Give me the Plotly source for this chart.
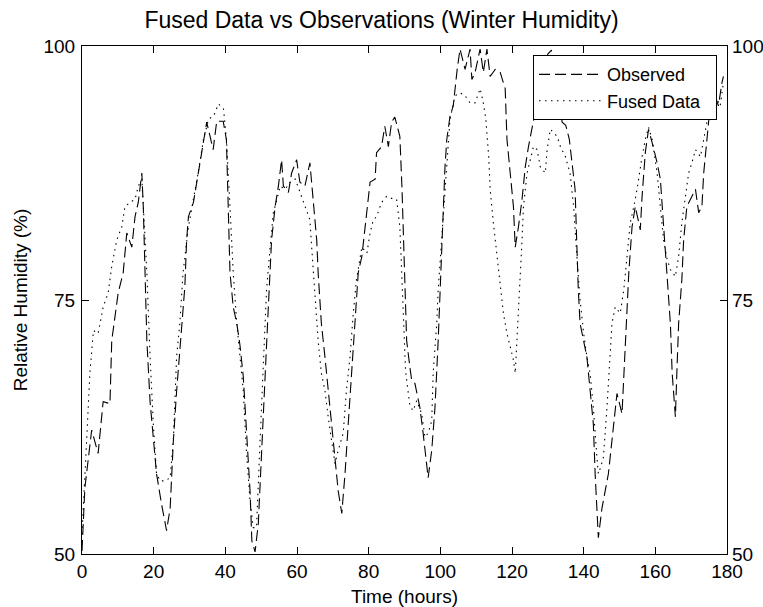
import plotly.graph_objects as go

# Observed humidity (time in hours, RH in %)
obs_time = [0, 0.8, 2.7, 4.5, 5.9, 7.8, 8.3, 10.1, 11.5, 12.5, 13.9, 14.8, 15.7, 16.7, 17.1, 17.6,
            18.1, 19, 19.9, 20.8, 22.2, 23.6, 24.6, 25.5, 26.4, 27.3, 28.7, 29.2, 29.7, 31.1, 32.4,
            33.9, 34.8, 36.6, 37.6, 39.4, 40.3, 41.3, 42.2, 43.2, 44.1, 45, 45.9, 46.9, 47.4, 48.3,
            49.2, 50.2, 51.1, 52, 52.9, 53.9, 54.8, 55.7, 56.2, 57.6, 58.5, 59.9, 60.8, 62.2, 63.6,
            64.5, 65.5, 65.9, 66.8, 67.8, 68.7, 69.7, 70.6, 71.5, 72.5, 73.4, 74.3, 75.3, 76.2, 77.1,
            78.1, 79, 80.4, 81.8, 82.2, 83.6, 84.5, 85.5, 86.4, 87.3, 88.7, 89.3, 89.8, 90.2, 90.6,
            91.5, 92, 92.9, 94.3, 95.2, 96.2, 96.6, 97.6, 98.5, 99.4, 99.9, 100.4, 100.8, 101.3,
            101.8, 102.7, 103.6, 104.1, 104.7, 105.5, 106.9, 108.3, 108.8, 109.7, 111.1, 112, 113,
            113.9, 115.3, 116.7, 118.1, 118.6, 119.4, 120.4, 120.9, 121.8, 122.8, 123.7, 124.6,
            125.6, 127, 128.5, 130, 131, 132.5, 134, 135, 136, 137.6, 138, 138.5, 139, 139.9, 140.9,
            141.8, 142.7, 143.2, 143.7, 144.1, 145.1, 146, 146.9, 147.9, 149.3, 150.7, 151.6, 152.6,
            153.5, 154.4, 155.8, 156.3, 157.2, 158.1, 159.1, 160.5, 161.4, 162.3, 163.3, 164.2,
            164.7, 165.6, 166, 166.5, 167.4, 167.9, 168.8, 170.2, 171.2, 172.1, 173, 173.5, 174.4,
            175.3, 176.7, 177.6, 178.6, 179]
obs_rh = [50.3, 56.5, 62.2, 59.9, 65, 64.8, 71, 75.7, 77.7, 81.6, 80.2, 83.2, 84.6, 87.5, 84.2, 77.7,
          71, 65, 61.2, 57.9, 54.9, 52.3, 54.5, 61.2, 66, 70.4, 76.3, 80.9, 83.2, 84.6, 87.5,
          90.8, 92.5, 89.8, 92.6, 92.6, 90.8, 77.7, 74.3, 72.7, 70.5, 67.5, 62, 56.2, 51.3, 50.2,
          53, 61.2, 67.8, 74.3, 80.9, 84.2, 86.2, 88.8, 86.2, 85.6, 87.5, 88.8, 86.6, 86.2, 88.5,
          85.2, 80.9, 77.7, 72.7, 69.4, 66.1, 62.8, 59.5, 56.2, 54, 57.9, 62.8, 67.8, 72.7, 77.7,
          79.3, 82.2, 86.6, 86.9, 89.5, 90.1, 92.1, 90.1, 92.5, 93, 91.1, 86, 80, 74, 71,
          68.4, 67.1, 66.8, 64.4, 61.9, 58.9, 57.5, 60.2, 64.4, 71, 76, 80.2, 84.2, 88.1,
          90.8, 93.1, 94.1, 95.8, 97.7, 99.7, 97.7, 99.7, 96.7, 97.4, 99.7, 97.4, 99.7,
          97, 97.7, 97.4, 95.8, 90.8, 87.5, 84.2, 80.2, 82.2, 84.9, 88.1, 90.1,
          91.8, 94.5, 97.5, 99.2, 99.6, 96, 92.5, 92.2, 90.8, 85.9, 80.9, 76, 72.7, 71, 69.4,
          66.1, 62.8, 57.9, 54.5, 51.6, 54.5, 56.2, 57.9, 61.2, 65.8, 63.8, 71, 77.7,
          82.2, 84.2, 81.9, 85.2, 89.5, 91.8, 90.5, 88.5, 86.9, 82.6, 77.7, 72.7,
          67.8, 63.5, 67.8, 72.7, 77, 80.9, 84.2, 85.2, 85.9, 83.6, 84.2, 87.5, 90.8,
          94.1, 95.1, 94.1, 96.4, 97]

# Fused data (time in hours, RH in %)
fus_time = [0, 0.4, 1.3, 2.2, 3.2, 4.5, 5.9, 7.3, 8.3, 9.7, 11.1, 12, 13.4, 14.8, 15.7, 16.7, 17.6,
            18.1, 19, 19.9, 20.8, 21.8, 23.2, 24.6, 25.5, 26.4, 27.3, 28.2, 29.7, 31.1, 32.4, 33.9,
            35.3, 36.7, 38.1, 39.5, 40.3, 41.3, 42.2, 43.2, 44.1, 45, 45.9, 46.9, 47.8, 48.7, 49.7,
            50.6, 51.5, 52.5, 53.4, 54.4, 55.3, 56.7, 58.1, 59.5, 60.8, 62.2, 63.6, 64.1, 65, 65.9,
            66.8, 67.8, 68.7, 69.7, 70.6, 71.5, 72.9, 73.8, 74.8, 75.7, 76.6, 78.1, 79.5, 80.4,
            81.3, 82.2, 83.6, 85, 86.4, 87.8, 88.7, 89.3, 89.8, 90.3, 91, 91.5, 92.4, 93.4, 94.8,
            95.7, 96.6, 97.6, 98, 99, 99.4, 100.4, 101.3, 102.7, 104.1, 105.5, 106.9, 108.3,
            109.7, 111.1, 112, 112.7, 113.5, 113.9, 114.8, 115.8, 116.7, 117.6, 118.6, 119.5,
            120.4, 120.9, 121.4, 121.8, 122.3, 122.8, 123.2, 124.2, 125.1, 126, 127, 127.9, 129.3,
            129.8, 130.7, 132.6, 133.5, 134.9, 136.2, 137.2, 138.1, 139, 140, 140.9, 141.8, 142.7,
            143.7, 144.1, 144.7, 145.5, 146.5, 147.4, 147.9, 148.8, 150.2, 151.2, 152.1, 153, 154,
            154.9, 156.3, 157.2, 158.1, 159.1, 160.5, 161.4, 162.3, 163.3, 164.2, 165.6, 166.5,
            167.4, 168.3, 169.3, 170.2, 171.2, 172.6, 173.5, 174.4, 175.8, 177.2, 178.1, 179]
fus_rh = [52, 54.5, 61.2, 67.8, 72, 71.7, 74.3, 75.7, 78.3, 80.9, 82.2, 84.2, 84.6, 84.9, 86.2, 86.9, 80.9,
          77.7, 69.4, 62.8, 57.9, 57.2, 57.2, 57.5, 61.2, 69.4, 72.7, 77.7, 82.2, 84.9, 87.5, 90.8,
          92.8, 93.1, 94.3, 93.8, 90.8, 84.2, 77.7, 72.7, 69.4, 66.1, 60, 55.2, 52.6, 52.6, 61.2,
          69.4, 76, 80.2, 83.6, 84.9, 86.2, 85.9, 86.6, 86.9, 85.6, 84.2, 82.9, 80.2, 76, 71,
          67.8, 66.1, 63.5, 61.2, 58.9, 60.2, 61.9, 66.1, 69.4, 73.7, 77, 80.2, 79.6, 81.6,
          82.9, 83.2, 84.6, 85.2, 85, 84.9, 82.2, 77, 72, 68, 66, 64.6, 64.1, 65.1, 63.8,
          61.5, 61.9, 63.1, 67.8, 72.7, 76, 80.9, 85.9, 92.8, 95.1, 95.4, 95.1, 94.4,
          94.4, 95.8, 94.4, 92.8, 89.1, 85.9, 82.6, 79.3, 76, 73.7, 71.7, 70.4,
          69.1, 67.8, 71, 74.3, 77.7, 80.9, 84.2, 87.5, 88.8, 90.1, 89.8, 88.1, 87.5,
          89.8, 91.8, 91.1, 90.1, 89.1, 87.5, 84.2, 79.3, 75, 71.7, 69.4, 67.8, 64.4,
          59.5, 57.9, 58.5, 59.5, 64.4, 69.4, 72.7, 74.3, 73.7, 76, 79.3, 82.6, 84.2,
          85.9, 89.1, 90.8, 92, 90.8, 87.5, 84.2, 80.9, 79, 78, 77.3, 79.3,
          82.6, 85.2, 87.5, 88.5, 89.8, 89.1, 90.8, 92.5, 94.1, 94.8, 94.1, 96.4]

x_ticks = [0, 20, 40, 60, 80, 100, 120, 140, 160, 180]
y_ticks = [50, 75, 100]

FONT = "Liberation Sans, Arial, sans-serif"
NB = "\u00a0"

fig = go.Figure()
fig.add_trace(go.Scatter(x=obs_time, y=obs_rh, mode="lines", name="Observed" + NB * 2,
                         line=dict(color="black", width=1.1, dash="11px,5px")))
fig.add_trace(go.Scatter(x=fus_time, y=fus_rh, mode="lines", name="Fused Data" + NB * 2,
                         line=dict(color="black", width=1.1, dash="1.5px,4.5px")))
fig.add_trace(go.Scatter(x=[None], y=[None], yaxis="y2", showlegend=False, hoverinfo="skip"))

fig.update_layout(
    width=763, height=607,
    margin=dict(l=82, r=36, t=46, b=53),
    paper_bgcolor="white", plot_bgcolor="white",
    font=dict(family=FONT, size=19, color="black"),
    title=dict(text="Fused Data vs Observations (Winter Humidity)", x=0.5, xanchor="center",
               y=1 - 20 / 607, yanchor="middle", font=dict(size=23, color="black")),
    xaxis=dict(range=[0, 180], tickvals=x_ticks, ticks="inside", ticklen=7, tickcolor="black",
               showline=True, linecolor="black", linewidth=1, mirror="ticks",
               showgrid=False, zeroline=False, automargin=False,
               title=dict(text="Time (hours)", standoff=12, font=dict(size=19))),
    yaxis=dict(range=[50, 100], tickvals=y_ticks, ticks="inside", ticklen=7, tickcolor="black",
               showline=True, linecolor="black", linewidth=1, mirror="ticks",
               showgrid=False, zeroline=False, ticklabelstandoff=2, automargin=False,
               title=dict(text="Relative Humidity (%)", standoff=10, font=dict(size=19))),
    yaxis2=dict(range=[50, 100], tickvals=y_ticks, overlaying="y", side="right", ticks="",
                showline=False, showgrid=False, zeroline=False, ticklabelstandoff=4,
                automargin=False),
    legend=dict(x=(533 - 82) / 645, y=0.982, xanchor="left", yanchor="top", bgcolor="white",
                bordercolor="black", borderwidth=1, font=dict(size=18), itemwidth=63,
                tracegroupgap=0),
    showlegend=True,
)

fig.write_html("out.html")
